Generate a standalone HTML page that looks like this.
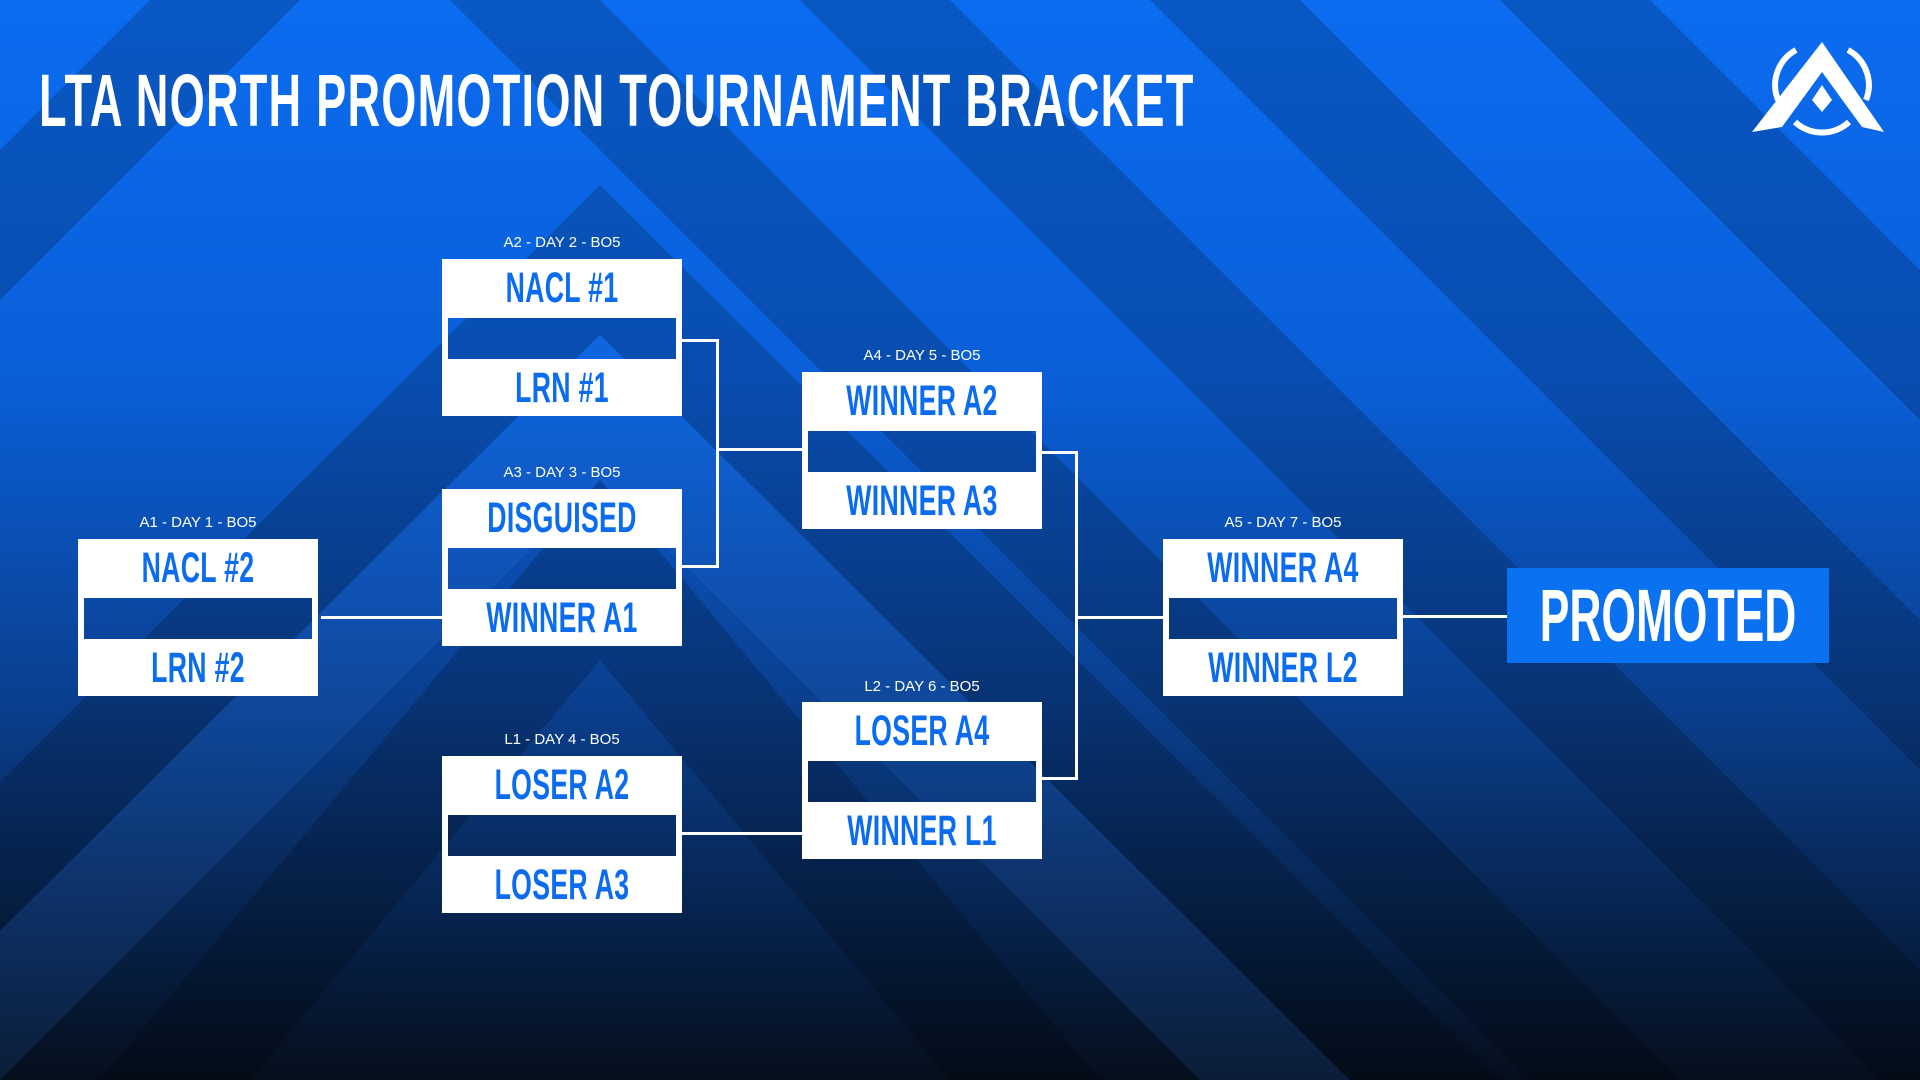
<!DOCTYPE html>
<html><head><meta charset="utf-8"><style>
html,body{margin:0;width:1920px;height:1080px;overflow:hidden;}
body{position:relative;font-family:"Liberation Sans",sans-serif;}
#bg{position:absolute;left:0;top:0;}
.t{position:absolute;left:39px;top:58px;color:#fff;font-weight:bold;font-size:74px;white-space:nowrap;transform-origin:left top;transform:scaleX(0.61);letter-spacing:2px;}
.box{position:absolute;width:240px;height:157px;}
.box .top,.box .bot{position:absolute;left:0;width:240px;background:#fff;color:#0b6cf0;font-weight:bold;text-align:center;overflow:hidden;}
.box .top{top:0;height:59px;}
.box .bot{bottom:0;height:57px;}
.box .l,.box .r{position:absolute;top:59px;height:41px;width:6px;background:#fff;}
.box .l{left:0}.box .r{right:0}
.nm{display:block;width:400px;margin-left:-80px;text-align:center;font-size:43px;line-height:58px;transform:scaleX(0.62);white-space:nowrap;letter-spacing:0.5px;}
.lab{position:absolute;width:240px;text-align:center;color:#fff;font-size:15px;}
.ln{position:absolute;background:#fff;}
.pro{position:absolute;left:1507px;top:568px;width:322px;height:95px;background:#0a72f0;color:#fff;font-weight:bold;overflow:hidden;}
.pro span{display:block;width:600px;margin-left:-139px;text-align:center;font-size:74px;line-height:95px;transform:scaleX(0.6);white-space:nowrap;}
</style></head><body>
<svg id="bg" width="1920" height="1080">
<defs>
<linearGradient id="g" x1="0" y1="0" x2="0" y2="1">
<stop offset="0" stop-color="#0b6cf0"/><stop offset="0.35" stop-color="#0a5fd8"/><stop offset="0.65" stop-color="#0a3f8e"/><stop offset="1" stop-color="#050e1c"/></linearGradient>
</defs>
<rect width="1920" height="1080" fill="url(#g)"/>
<g fill="#000" opacity="0.18">
<polygon points="600,185 -300,1080 -150,1080 600,335 1350,1080 1500,1080"/>
<polygon points="600,480 100,1080 250,1080 600,660 950,1080 1100,1080"/>
<polygon points="800,0 950,0 1920,970 1920,1120 "/>
<polygon points="1150,0 1300,0 1920,620 1920,770"/>
<polygon points="1500,0 1650,0 1920,270 1920,420"/>
<polygon points="450,0 600,0 1920,1320 1920,1470"/>
<polygon points="300,0 150,0 -200,350 -200,500"/>
</g>
<g fill="#3a8cff" opacity="0.12">
<polygon points="600,335 -150,1080 0,1080 600,480 1200,1080 1350,1080"/>
</g>
<g fill="#fff">
<polygon points="1822,42 1884,132 1862,127 1822,72 1782,127 1752,132"/>
<polygon points="1822,85 1832,100 1822,112 1812,100"/>
<path d="M1796,50 A40,40 0 0 0 1778,100" stroke="#fff" stroke-width="6" fill="none"/>
<path d="M1848,50 A40,40 0 0 1 1866,100" stroke="#fff" stroke-width="6" fill="none"/>
<path d="M1795,122 A40,40 0 0 0 1849,122" stroke="#fff" stroke-width="6" fill="none"/>
</g>
</svg>
<div class="t">LTA NORTH PROMOTION TOURNAMENT BRACKET</div>

<div class="lab" style="left:78px;top:514px">A1 - DAY 1 - BO5</div>
<div class="box" style="left:78px;top:539px"><div class="top"><span class="nm">NACL #2</span></div><div class="l"></div><div class="r"></div><div class="bot"><span class="nm">LRN #2</span></div></div>

<div class="lab" style="left:442px;top:234px">A2 - DAY 2 - BO5</div>
<div class="box" style="left:442px;top:259px"><div class="top"><span class="nm">NACL #1</span></div><div class="l"></div><div class="r"></div><div class="bot"><span class="nm">LRN #1</span></div></div>

<div class="lab" style="left:442px;top:464px">A3 - DAY 3 - BO5</div>
<div class="box" style="left:442px;top:489px"><div class="top"><span class="nm">DISGUISED</span></div><div class="l"></div><div class="r"></div><div class="bot"><span class="nm">WINNER A1</span></div></div>

<div class="lab" style="left:442px;top:731px">L1 - DAY 4 - BO5</div>
<div class="box" style="left:442px;top:756px"><div class="top"><span class="nm">LOSER A2</span></div><div class="l"></div><div class="r"></div><div class="bot"><span class="nm">LOSER A3</span></div></div>

<div class="lab" style="left:802px;top:347px">A4 - DAY 5 - BO5</div>
<div class="box" style="left:802px;top:372px"><div class="top"><span class="nm">WINNER A2</span></div><div class="l"></div><div class="r"></div><div class="bot"><span class="nm">WINNER A3</span></div></div>

<div class="lab" style="left:802px;top:678px">L2 - DAY 6 - BO5</div>
<div class="box" style="left:802px;top:702px"><div class="top"><span class="nm">LOSER A4</span></div><div class="l"></div><div class="r"></div><div class="bot"><span class="nm">WINNER L1</span></div></div>

<div class="lab" style="left:1163px;top:514px">A5 - DAY 7 - BO5</div>
<div class="box" style="left:1163px;top:539px"><div class="top"><span class="nm">WINNER A4</span></div><div class="l"></div><div class="r"></div><div class="bot"><span class="nm">WINNER L2</span></div></div>

<div class="ln" style="left:321px;top:616px;width:121px;height:3px"></div>
<div class="ln" style="left:682px;top:339px;width:37px;height:3px"></div>
<div class="ln" style="left:682px;top:565px;width:37px;height:3px"></div>
<div class="ln" style="left:716px;top:339px;width:3px;height:229px"></div>
<div class="ln" style="left:716px;top:448px;width:86px;height:3px"></div>
<div class="ln" style="left:682px;top:832px;width:120px;height:3px"></div>
<div class="ln" style="left:1042px;top:451px;width:36px;height:3px"></div>
<div class="ln" style="left:1042px;top:777px;width:36px;height:3px"></div>
<div class="ln" style="left:1075px;top:451px;width:3px;height:329px"></div>
<div class="ln" style="left:1075px;top:616px;width:88px;height:3px"></div>
<div class="ln" style="left:1403px;top:615px;width:104px;height:3px"></div>

<div class="pro"><span>PROMOTED</span></div>
</body></html>
